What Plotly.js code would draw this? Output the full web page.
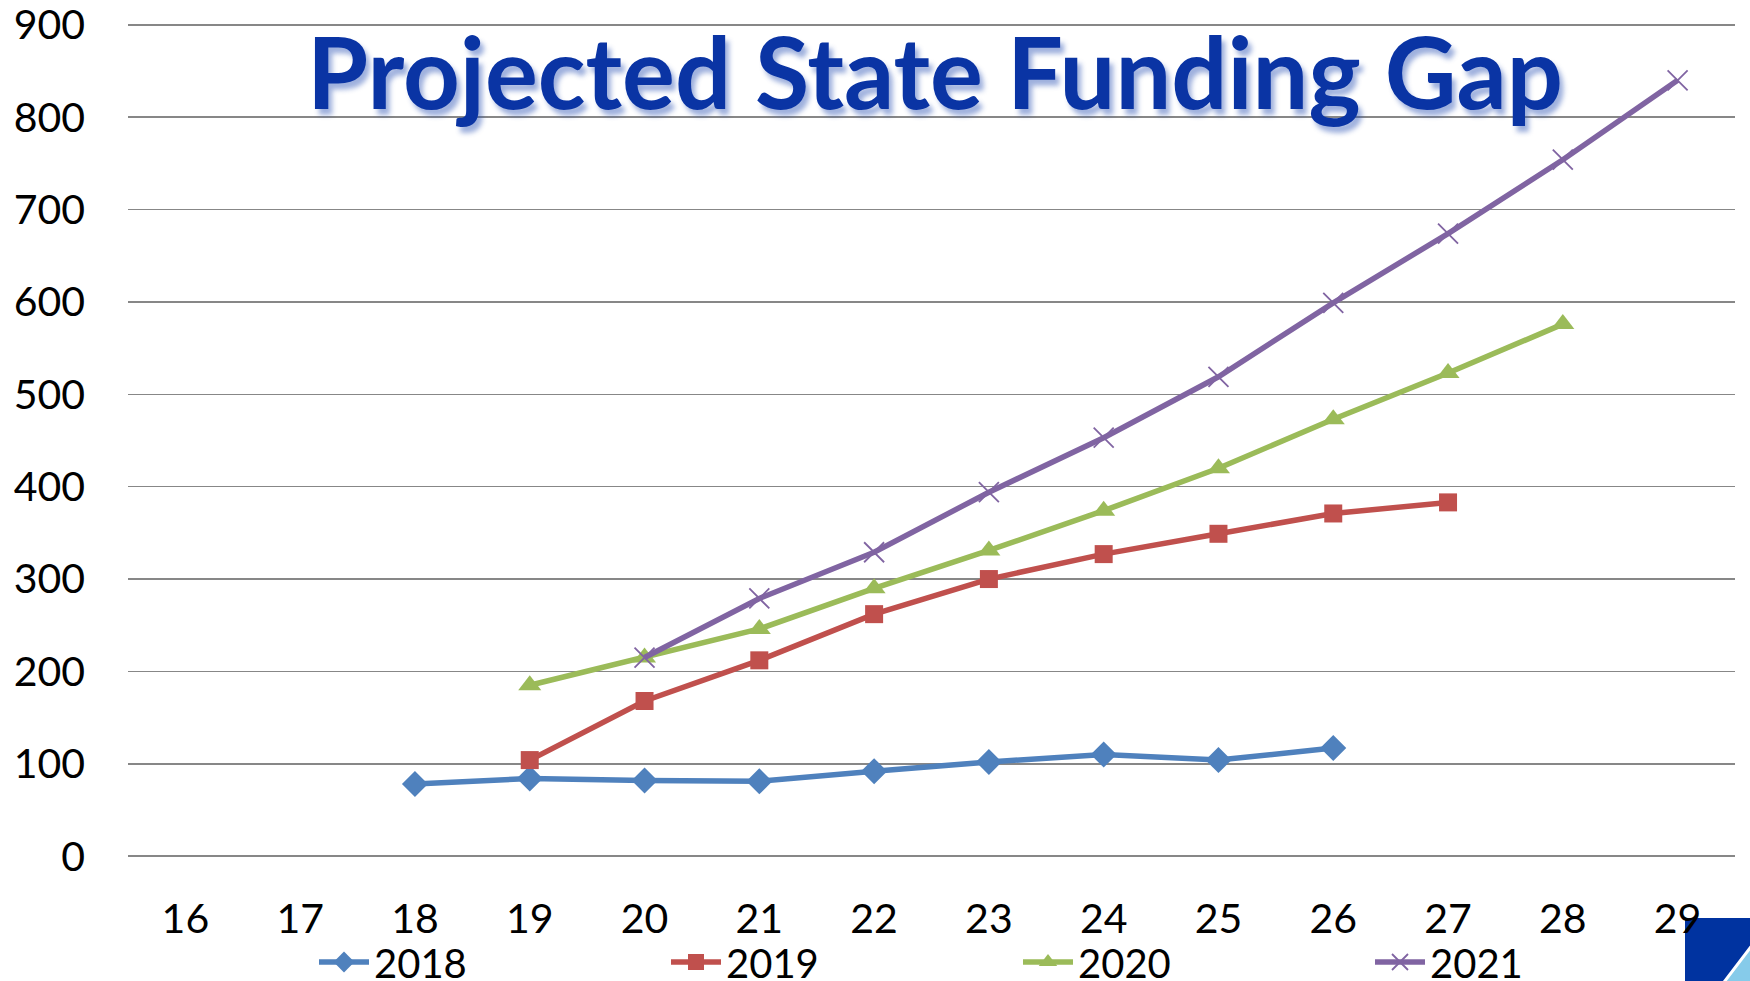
<!DOCTYPE html>
<html>
<head>
<meta charset="utf-8">
<script src="https://cdn.plot.ly/plotly-3.0.1.min.js"></script>
<style>html,body{margin:0;padding:0;background:#fff;}#chart{width:1750px;height:981px;}</style>
</head>
<body>
<div id="chart"></div>
<script>
const title = "Projected State Funding Gap";
const seriesNames = ["2018", "2019", "2020", "2021"];
const x2018 = [18, 19, 20, 21, 22, 23, 24, 25, 26];
const y2018 = [78, 84, 82, 81, 92, 102, 110, 104, 117];
const x2019 = [19, 20, 21, 22, 23, 24, 25, 26, 27];
const y2019 = [104, 168, 212, 262, 300, 327, 349, 371, 383];
const x2020 = [19, 20, 21, 22, 23, 24, 25, 26, 27, 28];
const y2020 = [185, 215, 246, 290, 331, 374, 420, 473, 523, 576];
const x2021 = [20, 21, 22, 23, 24, 25, 26, 27, 28, 29];
const y2021 = [215, 279, 329, 394, 453, 519, 599, 674, 754, 840];
const xTicks = [16, 17, 18, 19, 20, 21, 22, 23, 24, 25, 26, 27, 28, 29];
const yTicks = [0, 100, 200, 300, 400, 500, 600, 700, 800, 900];

const colors = ["#4F81BD", "#C0504D", "#9BBB59", "#8064A2"];
const symbols = ["diamond", "square", "triangle-up", "x-thin-open"];
const sizes = [20, 18, 20, 20];
const xs = [x2018, x2019, x2020, x2021];
const ys = [y2018, y2019, y2020, y2021];

const traces = seriesNames.map((n, i) => ({
  type: "scatter", mode: "lines+markers", name: n,
  x: xs[i], y: ys[i],
  line: {color: colors[i], width: 5.5},
  marker: {symbol: symbols[i], size: sizes[i], color: colors[i], line: {color: colors[i], width: i === 3 ? 1.8 : 0}},
  cliponaxis: false
}));

const W = 1750, H = 981;
const M = {l: 128, r: 15, t: 23, b: 123};
const pw = W - M.l - M.r, ph = H - M.t - M.b;
const px = v => (v - M.l) / pw;
const py = v => (H - M.b - v) / ph;
const FONT = "Lato, 'Liberation Sans', sans-serif";

const layout = {
  width: W, height: H,
  margin: M,
  paper_bgcolor: "#ffffff", plot_bgcolor: "#ffffff",
  font: {family: FONT, color: "#000", size: 40},
  showlegend: true,
  legend: {
    orientation: "h", xref: "container", yref: "container",
    x: 314 / W, xanchor: "left", y: 1 - 962 / H, yanchor: "middle",
    entrywidth: 287, entrywidthmode: "pixels",
    font: {size: 40, family: FONT},
    bgcolor: "rgba(0,0,0,0)", traceorder: "normal", itemwidth: 50
  },
  xaxis: {
    range: [15.5, 29.5], tickvals: xTicks, ticktext: xTicks.map(String),
    showgrid: false, zeroline: false, showline: false, ticks: "", automargin: false,
    ticklabelstandoff: 33, ticklabeloverflow: "allow", tickfont: {size: 41}
  },
  yaxis: {
    range: [-2, 902], tickvals: yTicks, ticktext: yTicks.map(String),
    showgrid: true, gridcolor: "#878787", gridwidth: 1.5, zeroline: false, showline: false,
    ticks: "", automargin: false, ticklabelstandoff: 42, ticklabeloverflow: "allow", tickfont: {size: 41}
  },
  annotations: [{
    text: "<b>" + title + "</b>", xref: "paper", yref: "paper",
    x: px(935), y: py(70), xanchor: "center", yanchor: "middle", showarrow: false,
    font: {family: FONT, size: 99, color: "#0A34A4",
           shadow: "4px 6px 5px rgba(40,80,180,0.45)"}
  }],
  shapes: [
    {type: "rect", xref: "paper", yref: "paper", x0: px(1685), x1: px(1760), y0: py(918), y1: py(990),
     fillcolor: "#0033A0", line: {width: 0}, layer: "below"},
    {type: "path", xref: "paper", yref: "paper",
     path: `M ${px(1718)} ${py(990)} L ${px(1760)} ${py(935)} L ${px(1760)} ${py(990)} Z`,
     fillcolor: "#86CBEA", line: {color: "#ffffff", width: 3}, layer: "below"}
  ]
};

Plotly.newPlot("chart", traces, layout, {displayModeBar: false, staticPlot: true});
</script>
</body>
</html>
